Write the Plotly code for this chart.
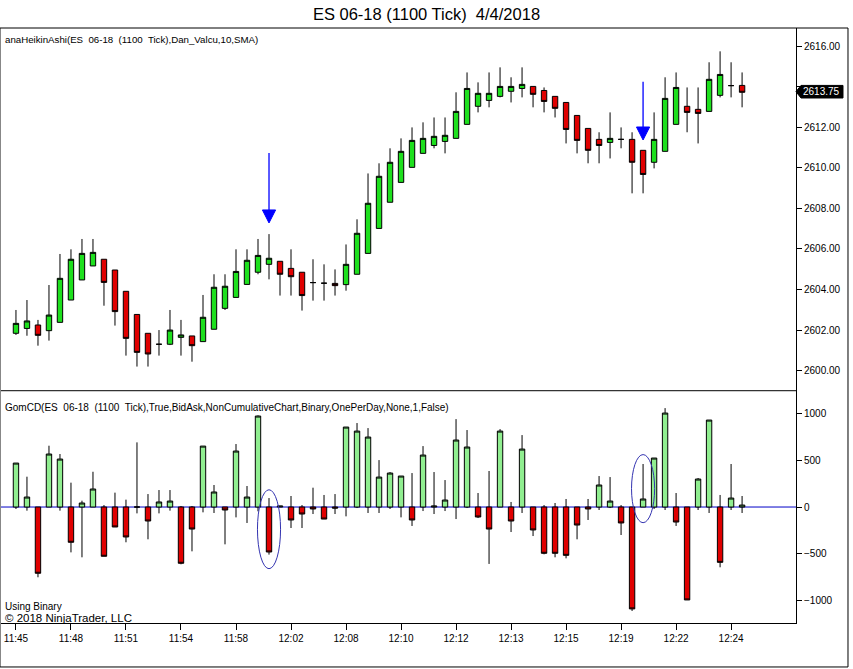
import plotly.graph_objects as go

# bar index (1100 tick bars), ticks every 5 bars
bar_idx = list(range(67))
tick_idx = [0, 5, 10, 15, 20, 25, 30, 35, 40, 45, 50, 55, 60, 65]
tick_text = ["11:45", "11:48", "11:51", "11:54", "11:58", "12:02", "12:08",
             "12:10", "12:12", "12:13", "12:15", "12:19", "12:22", "12:24"]

# Heikin Ashi candles (top panel)
ha_open = [2601.84, 2602.08, 2602.25, 2601.97, 2602.38, 2603.48, 2604.47, 2605.16, 2605.49, 2604.96,
           2603.91, 2602.77, 2601.84, 2601.30, 2601.30, 2601.64, 2601.71, 2601.43, 2602.04, 2603.07,
           2603.61, 2604.25, 2604.85, 2605.24, 2605.39, 2605.04, 2604.85, 2604.34, 2604.31, 2604.30,
           2604.24, 2604.75, 2605.78, 2607.01, 2608.30, 2609.28, 2610.02, 2610.71, 2611.10, 2611.30,
           2611.45, 2612.14, 2613.03, 2613.32, 2613.52, 2613.77, 2613.91, 2614.01, 2613.81, 2613.52,
           2613.22, 2612.58, 2611.94, 2611.40, 2611.25, 2611.40, 2611.40, 2610.86, 2610.27, 2610.81,
           2612.14, 2613.03, 2612.88, 2612.78, 2613.57, 2614.05, 2614.06]
ha_high = [2602.99, 2603.48, 2602.50, 2604.22, 2605.75, 2605.98, 2606.49, 2606.49, 2605.49, 2604.96,
           2603.91, 2602.77, 2601.84, 2602.00, 2602.99, 2602.50, 2601.71, 2603.73, 2604.75, 2604.75,
           2605.98, 2605.98, 2606.49, 2606.73, 2605.39, 2605.98, 2604.85, 2605.49, 2605.24, 2604.99,
           2606.22, 2607.46, 2609.72, 2610.22, 2610.96, 2611.45, 2611.99, 2612.24, 2612.48, 2612.48,
           2613.72, 2614.70, 2614.21, 2614.70, 2614.95, 2614.46, 2614.95, 2614.01, 2613.96, 2613.52,
           2613.22, 2612.58, 2611.94, 2611.75, 2612.73, 2611.99, 2611.75, 2610.86, 2612.73, 2614.46,
           2614.70, 2613.96, 2613.96, 2615.20, 2615.74, 2615.20, 2614.70]
ha_low = [2601.76, 2601.72, 2601.23, 2601.48, 2602.38, 2603.48, 2604.47, 2605.16, 2603.20, 2602.22,
          2600.74, 2600.20, 2600.20, 2600.74, 2601.26, 2600.74, 2600.44, 2601.43, 2602.04, 2602.99,
          2603.61, 2604.25, 2604.75, 2604.50, 2603.70, 2603.70, 2602.96, 2603.45, 2603.45, 2603.70,
          2603.94, 2604.75, 2605.78, 2607.01, 2608.30, 2609.28, 2610.02, 2610.71, 2610.96, 2610.71,
          2611.45, 2612.14, 2612.73, 2612.98, 2613.47, 2613.22, 2613.47, 2612.98, 2612.73, 2612.48,
          2611.20, 2610.71, 2610.22, 2610.22, 2610.46, 2610.96, 2608.74, 2608.74, 2609.97, 2610.81,
          2612.14, 2611.75, 2611.20, 2612.78, 2613.47, 2613.47, 2612.98]
ha_close = [2602.33, 2602.45, 2601.74, 2602.74, 2604.55, 2605.49, 2605.78, 2605.83, 2604.35, 2602.91,
            2601.59, 2600.90, 2600.82, 2601.30, 2602.00, 2601.76, 2601.23, 2602.63, 2604.11, 2604.16,
            2604.89, 2605.44, 2605.68, 2605.54, 2604.75, 2604.63, 2603.70, 2604.34, 2604.31, 2604.19,
            2605.24, 2606.77, 2608.25, 2609.58, 2610.27, 2610.81, 2611.35, 2611.45, 2611.55, 2611.60,
            2612.78, 2613.91, 2613.67, 2613.67, 2614.01, 2614.01, 2614.11, 2613.62, 2613.27, 2612.93,
            2611.89, 2611.35, 2610.86, 2611.10, 2611.45, 2611.40, 2610.27, 2609.67, 2611.40, 2613.42,
            2613.96, 2612.73, 2612.68, 2614.36, 2614.60, 2614.05, 2613.72]
last_price = 2613.75

price_ticks = [2600, 2602, 2604, 2606, 2608, 2610, 2612, 2614, 2616]
# 2614.00 sits under the last-price tag, so its label is left blank
price_tick_text = ["" if p == 2614 else f"{p:.2f}" for p in price_ticks]

# GomCD non-cumulative delta bars (bottom panel), each bar opens at 0
cd_close = [471, 107, -710, 568, 514, -378, 43, 193, -528, -214,
            -321, 0, -150, 54, 64, -603, -236, 653, 161, -32,
            600, 107, 975, -482, 10, -139, -75, -21, -129, -11,
            857, 814, 750, 321, 364, 332, -139, 557, 10, 75,
            718, 643, -107, -236, 814, -150, 621, -246, -496, -496,
            -518, -193, -21, 236, 64, -171, -1092, 86, 525, 1007,
            -161, -996, 300, 932, -593, 96, 21]
cd_high = [471, 325, 0, 657, 568, 261, 68, 378, 21, 154,
           79, 693, 139, 182, 182, 11, 11, 653, 236, 0,
           675, 225, 982, 96, 11, 118, 21, 207, 129, 139,
           857, 900, 846, 503, 375, 332, 364, 653, 375, 289,
           942, 825, 150, 386, 835, 54, 771, 0, 21, 43,
           86, 0, 86, 332, 321, 21, 0, 461, 525, 1060,
           150, 0, 311, 932, 129, 461, 118]
cd_low = [-21, -39, -753, 0, -39, -486, -539, 0, -528, -214,
          -378, -68, -346, -68, -39, -614, -475, -57, -64, -400,
          -111, -171, -46, -510, 0, -225, -225, -75, -129, -75,
          -100, -11, -64, -64, -21, -111, -203, -43, -75, -43,
          -129, -11, -118, -610, 0, -268, -64, -311, -507, -539,
          -550, -346, -139, -32, -11, -300, -1114, 0, -21, -32,
          -203, -996, -32, -64, -646, -32, -64]
cd_open = [0 for _ in cd_close]

# signal arrows (top panel) and highlight ellipses (bottom panel)
signal_idx = [23, 57]
signal_tip = [2607.28, 2611.37]
signal_top = [2610.73, 2614.24]
ellipse_top = [185, 562]
ellipse_bot = [-661, -168]

fig = go.Figure()

fig.add_trace(go.Candlestick(
    x=bar_idx, open=ha_open, high=ha_high, low=ha_low, close=ha_close,
    increasing=dict(fillcolor="#1EE01E", line=dict(color="black", width=1)),
    decreasing=dict(fillcolor="#E00000", line=dict(color="black", width=1)),
    whiskerwidth=0, xaxis="x", yaxis="y", name="anaHeikinAshi"))

fig.add_trace(go.Candlestick(
    x=bar_idx, open=cd_open, high=cd_high, low=cd_low, close=cd_close,
    increasing=dict(fillcolor="#90EE90", line=dict(color="black", width=1)),
    decreasing=dict(fillcolor="#E00000", line=dict(color="black", width=1)),
    whiskerwidth=0, xaxis="x", yaxis="y2", name="GomCD"))

# arrow shafts
shaft_x, shaft_y = [], []
for i, tip, top in zip(signal_idx, signal_tip, signal_top):
    shaft_x += [i, i, None]
    shaft_y += [top, tip + 0.5, None]
fig.add_trace(go.Scatter(x=shaft_x, y=shaft_y, mode="lines", line=dict(color="#0000FF", width=1.3),
                         xaxis="x", yaxis="y", hoverinfo="skip"))
# arrow heads
head_x, head_y = [], []
for i, tip in zip(signal_idx, signal_tip):
    head_x += [i - 0.6, i + 0.6, i, i - 0.6, None]
    head_y += [tip + 0.64, tip + 0.64, tip, tip + 0.64, None]
fig.add_trace(go.Scatter(x=head_x, y=head_y, mode="lines", fill="toself", fillcolor="#0000FF",
                         line=dict(color="#0000FF", width=1), xaxis="x", yaxis="y", hoverinfo="skip"))

shapes = []
# zero line of delta panel
shapes.append(dict(type="line", xref="paper", yref="y2", x0=0, x1=1, y0=0, y1=0,
                   line=dict(color="#0000C8", width=1), layer="below"))
# panel separator
shapes.append(dict(type="line", xref="paper", yref="paper", x0=0, x1=1, y0=0.3904, y1=0.3904,
                   line=dict(color="black", width=1)))
# outer frame
shapes.append(dict(type="rect", xref="paper", yref="paper", x0=-0.0013, x1=1.0654, y0=-0.0739, y1=1,
                   line=dict(color="black", width=1)))
for i, top, bot in zip(signal_idx, ellipse_top, ellipse_bot):
    shapes.append(dict(type="circle", xref="x", yref="y2", x0=i - 1.05, x1=i + 1.05, y0=bot, y1=top,
                       line=dict(color="#3333B0", width=1)))
# last price tag
h = 0.31
shapes.append(dict(type="path", xref="paper", yref="y",
                   path=f"M 1.0,{last_price} L 1.0063,{last_price + h} L 1.0591,{last_price + h} "
                        f"L 1.0591,{last_price - h} L 1.0063,{last_price - h} Z",
                   fillcolor="black", line=dict(color="black", width=1)))

annotations = [
    dict(text="anaHeikinAshi(ES\u00a0 06-18\u00a0 (1100\u00a0 Tick),Dan_Valcu,10,SMA)",
         xref="paper", yref="paper", x=0.0025, y=0.98, xanchor="left", yanchor="middle",
         showarrow=False, font=dict(size=9.7)),
    dict(text="GomCD(ES\u00a0 06-18\u00a0 (1100\u00a0 Tick),True,BidAsk,NonCumulativeChart,Binary,OnePerDay,None,1,False)",
         xref="paper", yref="paper", x=0.0025, y=0.363, xanchor="left", yanchor="middle",
         showarrow=False, font=dict(size=10)),
    dict(text="Using Binary", xref="paper", yref="paper", x=0.0025, y=0.0285,
         xanchor="left", yanchor="middle", showarrow=False, font=dict(size=10)),
    dict(text="\u00a9 2018 NinjaTrader, LLC", xref="paper", yref="paper", x=0.0025, y=0.0085,
         xanchor="left", yanchor="middle", showarrow=False, font=dict(size=11.5)),
    dict(text=f"{last_price:.2f}", xref="paper", yref="y", x=1.0327, y=last_price,
         xanchor="center", yanchor="middle", showarrow=False, font=dict(size=10, color="white")),
]

fig.update_layout(
    width=853, height=669,
    margin=dict(l=1, r=57, t=28, b=46),
    paper_bgcolor="white", plot_bgcolor="white",
    showlegend=False,
    font=dict(family="Liberation Sans", size=10, color="black"),
    title=dict(text="ES 06-18 (1100 Tick)\u00a0 4/4/2018", x=0.5, xanchor="center",
               y=1 - 14 / 669, yanchor="middle", yref="container",
               font=dict(size=16.5, color="black")),
    xaxis=dict(domain=[0, 1], anchor="y2", range=[-1.36, 70.9], rangeslider=dict(visible=False),
               tickmode="array", tickvals=tick_idx, ticktext=tick_text,
               ticks="outside", ticklen=6, tickcolor="black", showline=True, linecolor="black",
               showgrid=False, zeroline=False),
    yaxis=dict(domain=[0.3904, 1], anchor="x", side="right", range=[2599.01, 2616.89],
               tickmode="array", tickvals=price_ticks, ticktext=price_tick_text,
               ticks="outside", ticklen=5, tickcolor="black",
               showline=True, linecolor="black", showgrid=False, zeroline=False),
    yaxis2=dict(domain=[0, 0.3904], anchor="x", side="right", range=[-1243, 1246.5],
                tickmode="array", tickvals=[-1000, -500, 0, 500, 1000],
                ticks="outside", ticklen=5, tickcolor="black",
                showline=True, linecolor="black", showgrid=False, zeroline=False),
    shapes=shapes,
    annotations=annotations,
)

# page margin off so the 853x669 figure fills the window exactly
fig.write_html("out.html", config={"displayModeBar": False},
               post_script="document.body.style.margin='0px';")
